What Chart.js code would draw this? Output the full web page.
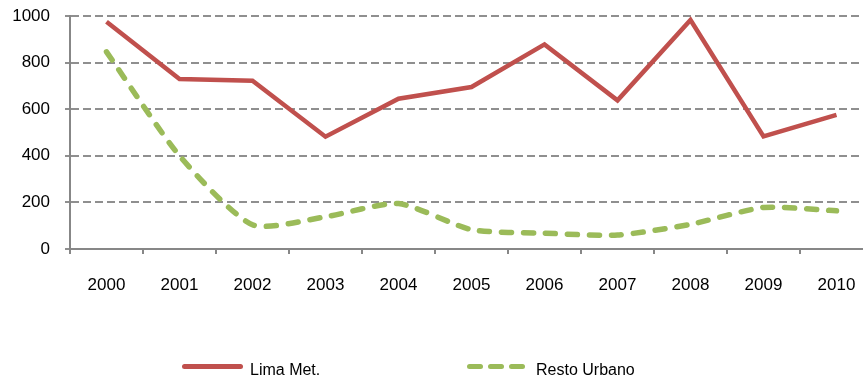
<!DOCTYPE html>
<html>
<head>
<meta charset="utf-8">
<script src="https://cdn.jsdelivr.net/npm/chart.js@4/dist/chart.umd.min.js"></script>
<style>
  html, body { margin: 0; padding: 0; background: #fff; overflow: hidden; }
  #wrap { position: relative; width: 880px; height: 381px; }
  #legend { position: absolute; left: 0; top: 0; width: 880px; height: 381px; pointer-events: none;
            font-family: "Liberation Sans", Arial, sans-serif; font-size: 16px; color: #000; }
  .sw { position: absolute; height: 5px; border-radius: 3px; }
  .lbl { position: absolute; line-height: 16px; }
</style>
</head>
<body>
<div id="wrap">
  <canvas id="chart" width="880" height="381"></canvas>
  <div id="legend"></div>
</div>
<script>
// ============================
// DATA
// ============================
const years = ["2000","2001","2002","2003","2004","2005","2006","2007","2008","2009","2010"];
const limaMet = [975, 730, 722, 482, 645, 695, 878, 638, 983, 483, 576];
const restoUrbano = [846, 400, 104, 138, 195, 83, 68, 60, 106, 178, 164];
const seriesNames = ["Lima Met.", "Resto Urbano"];
const yTicks = [0, 200, 400, 600, 800, 1000];

const RED = "#C0504D";
const GREEN = "#9BBB59";
const GRID = "#878787";
const FONT = "'Liberation Sans', Arial, sans-serif";

// ============================
// CHART
// ============================
new Chart(document.getElementById("chart"), {
  type: "line",
  data: {
    labels: years,
    datasets: [
      {
        label: seriesNames[0],
        data: limaMet,
        borderColor: RED,
        backgroundColor: RED,
        borderWidth: 4.5,
        borderJoinStyle: "miter",
        pointRadius: 0,
        tension: 0
      },
      {
        label: seriesNames[1],
        data: restoUrbano,
        borderColor: GREEN,
        backgroundColor: GREEN,
        borderWidth: 5.5,
        borderDash: [10, 12],
        borderCapStyle: "round",
        pointRadius: 0,
        tension: 0.22
      }
    ]
  },
  options: {
    responsive: false,
    animation: false,
    layout: { padding: { top: 16, right: 7, bottom: 0, left: 0 } },
    plugins: {
      legend: { display: false },
      tooltip: { enabled: false }
    },
    scales: {
      x: {
        offset: true,
        grid: {
          offset: true,
          drawOnChartArea: false,
          drawTicks: true,
          tickLength: 5,
          color: GRID,
          lineWidth: 2
        },
        border: { display: true, color: GRID, width: 2 },
        ticks: {
          color: "#000",
          padding: 21,
          maxRotation: 0,
          font: { family: FONT, size: 17 }
        },
        afterFit: s => { s.height = 132; }
      },
      y: {
        min: 0,
        max: 1000,
        afterBuildTicks: s => { s.ticks = yTicks.map(v => ({ value: v })); },
        grid: {
          color: "#8f8f8f",
          lineWidth: 2,
          drawTicks: true,
          tickLength: 5,
          tickColor: "#8f8f8f",
          tickWidth: 2
        },
        border: { display: true, color: GRID, width: 2, dash: [8, 4] },
        ticks: {
          color: "#000",
          padding: 15,
          callback: v => String(v),
          font: { family: FONT, size: 17 }
        },
        afterFit: s => { s.width = 70; s.paddingTop = 0; s.paddingBottom = 0; }
      }
    }
  }
});

// ============================
// LEGEND (html)
// ============================
const legend = document.getElementById("legend");
const legendX = [182, 467];
const legendColors = [RED, GREEN];
seriesNames.forEach((name, i) => {
  if (i === 0) {
    const sw = document.createElement("div");
    sw.className = "sw";
    sw.style.cssText = `left:${legendX[i]}px;top:364px;width:61px;background:${legendColors[i]};`;
    legend.appendChild(sw);
  } else {
    for (let k = 0; k < 3; k++) {
      const sw = document.createElement("div");
      sw.className = "sw";
      sw.style.cssText = `left:${legendX[i] + k * 20.8}px;top:364px;width:16px;background:${legendColors[i]};`;
      legend.appendChild(sw);
    }
  }
  const t = document.createElement("div");
  t.className = "lbl";
  t.textContent = name;
  t.style.left = (i === 0 ? 250 : 536) + "px";
  t.style.top = "362px";
  legend.appendChild(t);
});
</script>
</body>
</html>
